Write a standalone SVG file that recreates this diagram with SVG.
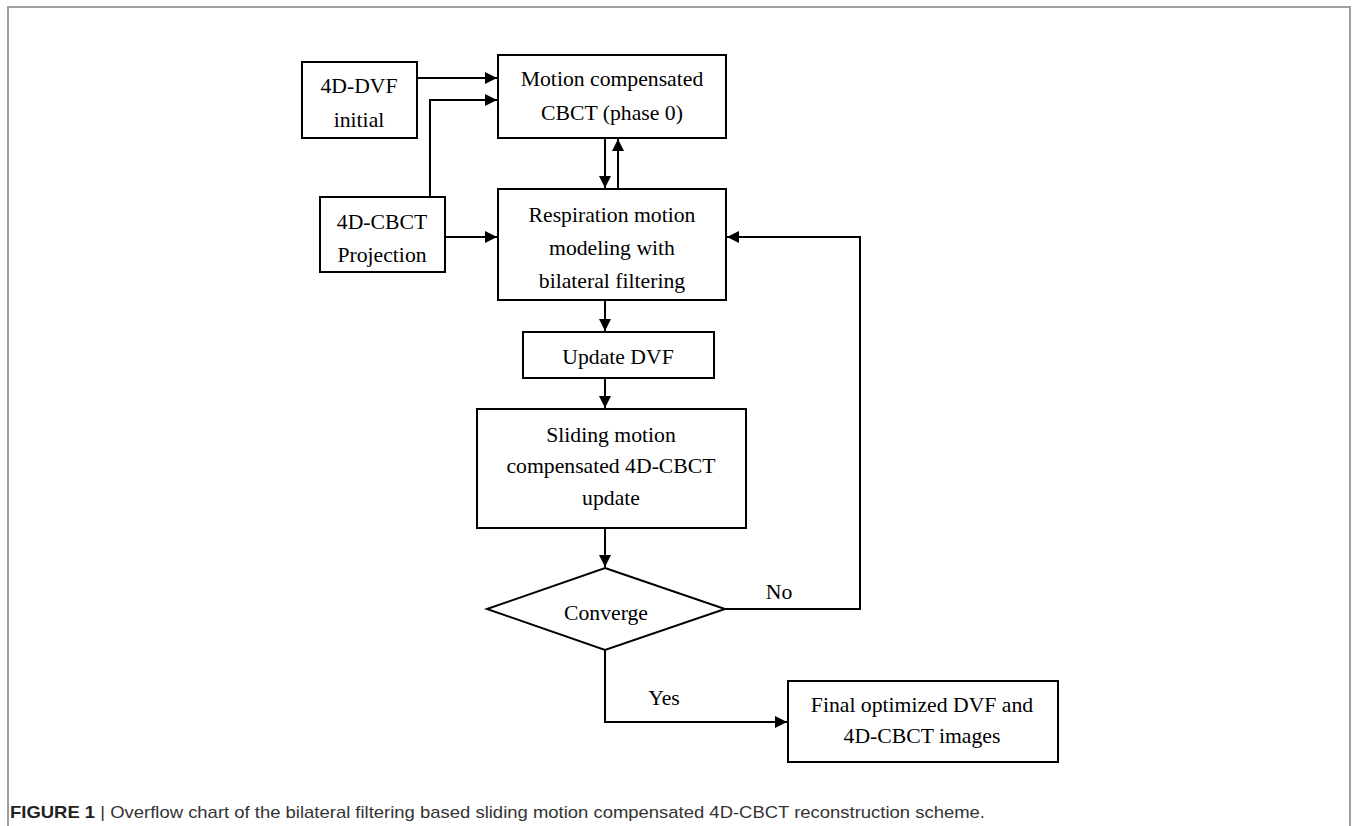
<svg xmlns="http://www.w3.org/2000/svg" width="1356" height="826" viewBox="0 0 1356 826">
<style>
.box{fill:#fff;stroke:#000;stroke-width:2}
.t{font-family:"Liberation Serif","Times New Roman",serif;font-size:21.7px;fill:#000;text-anchor:middle}
.c{fill:none;stroke:#000;stroke-width:2}
.cap{font-family:"Liberation Sans",Arial,sans-serif;font-size:17px;fill:#333}
</style>
<defs>
<marker id="ah" viewBox="0 0 10 10" refX="10" refY="5" markerWidth="12" markerHeight="12" markerUnits="userSpaceOnUse" orient="auto">
<path d="M0,0 L10,5 L0,10 z" fill="#000"/>
</marker>
</defs>
<rect x="0" y="0" width="1356" height="826" fill="#fff"/>
<path d="M8,826 V7 H1350 V826" fill="none" stroke="#a0a0a0" stroke-width="2"/>

<g id="connectors">
<line class="c" x1="417" y1="78" x2="497" y2="78" marker-end="url(#ah)"/>
<polyline class="c" points="430,197 430,100 497,100" marker-end="url(#ah)"/>
<line class="c" x1="445" y1="237" x2="497" y2="237" marker-end="url(#ah)"/>
<line class="c" x1="605" y1="138" x2="605" y2="188" marker-end="url(#ah)"/>
<line class="c" x1="618" y1="189" x2="618" y2="139" marker-end="url(#ah)"/>
<line class="c" x1="605" y1="300" x2="605" y2="331" marker-end="url(#ah)"/>
<line class="c" x1="605" y1="378" x2="605" y2="408" marker-end="url(#ah)"/>
<line class="c" x1="605" y1="528" x2="605" y2="567" marker-end="url(#ah)"/>
<polyline class="c" points="725,609 860,609 860,237 727,237" marker-end="url(#ah)"/>
<polyline class="c" points="605,650 605,722 787,722" marker-end="url(#ah)"/>
<text class="t" x="779" y="599">No</text>
<text class="t" x="664" y="705">Yes</text>
</g>

<g id="n-dvf">
<rect class="box" x="302" y="62" width="115" height="76"/>
<text class="t" x="359" y="93">4D-DVF</text>
<text class="t" x="359" y="127">initial</text>
</g>
<g id="n-mc">
<rect class="box" x="498" y="55" width="228" height="83"/>
<text class="t" x="612" y="86">Motion compensated</text>
<text class="t" x="612" y="120">CBCT (phase 0)</text>
</g>
<g id="n-proj">
<rect class="box" x="320" y="197" width="125" height="75"/>
<text class="t" x="382" y="229">4D-CBCT</text>
<text class="t" x="382" y="262">Projection</text>
</g>
<g id="n-resp">
<rect class="box" x="498" y="189" width="228" height="111"/>
<text class="t" x="612" y="222">Respiration motion</text>
<text class="t" x="612" y="255">modeling with</text>
<text class="t" x="612" y="288">bilateral filtering</text>
</g>
<g id="n-update">
<rect class="box" x="523" y="332" width="191" height="46"/>
<text class="t" x="618" y="364">Update DVF</text>
</g>
<g id="n-slide">
<rect class="box" x="477" y="409" width="269" height="119"/>
<text class="t" x="611" y="442">Sliding motion</text>
<text class="t" x="611" y="473">compensated 4D-CBCT</text>
<text class="t" x="611" y="505">update</text>
</g>
<g id="n-conv">
<polygon class="box" points="605,568 725,609 605,650 487,609"/>
<text class="t" x="606" y="620">Converge</text>
</g>
<g id="n-final">
<rect class="box" x="788" y="681" width="270" height="81"/>
<text class="t" x="922" y="712">Final optimized DVF and</text>
<text class="t" x="922" y="743">4D-CBCT images</text>
</g>

<text class="cap" x="10" y="818" textLength="975" lengthAdjust="spacingAndGlyphs"><tspan font-weight="bold" fill="#222">FIGURE 1</tspan> | Overflow chart of the bilateral filtering based sliding motion compensated 4D-CBCT reconstruction scheme.</text>
</svg>
